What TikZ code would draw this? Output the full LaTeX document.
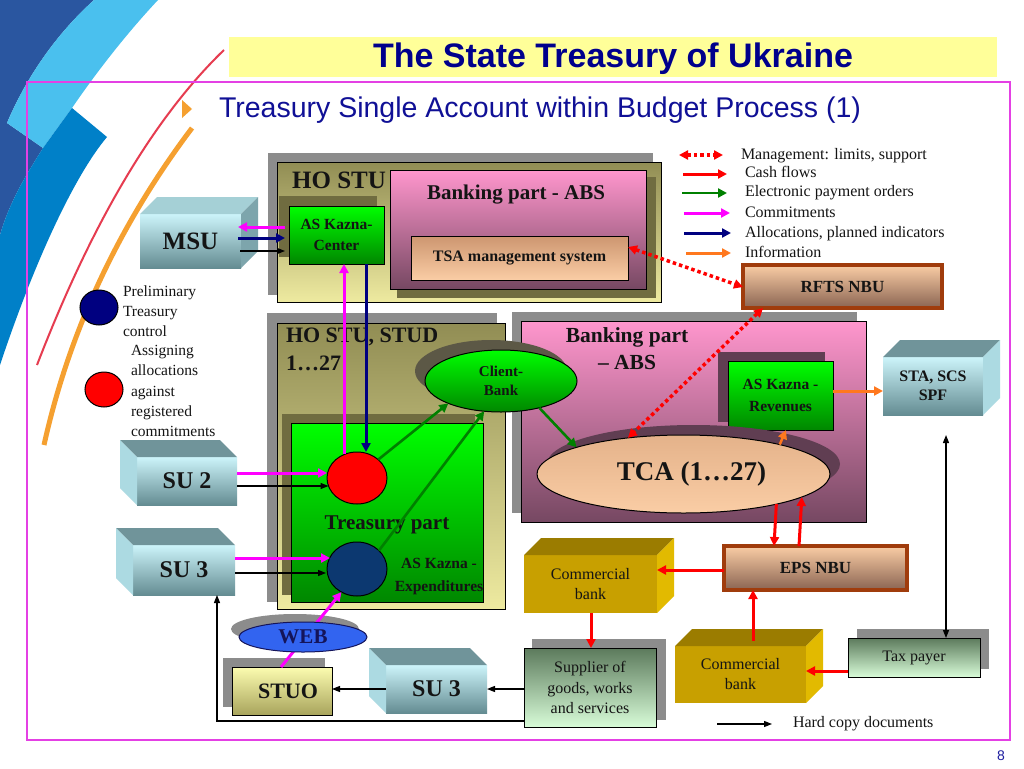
\documentclass[tikz,border=0pt]{standalone}
\usepackage{fontspec}
\setmainfont{Liberation Serif}
\newfontfamily\arialf{Liberation Sans}
\usetikzlibrary{arrows.meta,shapes.geometric,calc}
\newcommand\myfs[2]{\fontsize{#1}{#2}\selectfont}
\newcommand\cubeRfaces[4]{%
  \fill[#3] (#1.north west) -- ++(#2,-#2) -- ($(#1.north east)+(#2,-#2)$) -- (#1.north east) -- cycle;
  \fill[#4] (#1.north east) -- ++(#2,-#2) -- ($(#1.south east)+(#2,-#2)$) -- (#1.south east) -- cycle;}
\newcommand\cubeLfaces[4]{%
  \fill[#3] (#1.north west) -- ++(-#2,-#2) -- ($(#1.north east)+(-#2,-#2)$) -- (#1.north east) -- cycle;
  \fill[#4] (#1.north west) -- ++(-#2,-#2) -- ($(#1.south west)+(-#2,-#2)$) -- (#1.south west) -- cycle;}
\definecolor{navyT}{RGB}{0,0,140}
\definecolor{subT}{RGB}{16,16,150}
\definecolor{ybar}{RGB}{255,255,153}
\definecolor{frameM}{RGB}{228,64,228}
\definecolor{dblue}{RGB}{42,86,160}
\definecolor{lblue}{RGB}{74,192,238}
\definecolor{mblue}{RGB}{0,128,200}
\definecolor{decoRed}{RGB}{230,60,80}
\definecolor{decoOr}{RGB}{245,160,48}
\definecolor{shgray}{RGB}{140,140,140}
\definecolor{olD}{RGB}{145,141,84}
\definecolor{olL}{RGB}{238,234,160}
\definecolor{olSh}{RGB}{112,108,64}
\definecolor{pinkT}{RGB}{255,150,205}
\definecolor{pinkB}{RGB}{118,72,98}
\definecolor{mauveSh}{RGB}{96,62,82}
\definecolor{cbSh}{RGB}{92,88,70}
\definecolor{peachT}{RGB}{205,150,112}
\definecolor{peachT2}{RGB}{228,178,138}
\definecolor{peachB}{RGB}{250,205,165}
\definecolor{gT}{RGB}{0,255,0}
\definecolor{gB}{RGB}{0,135,0}
\definecolor{cyT}{RGB}{204,244,250}
\definecolor{cyB}{RGB}{100,140,146}
\definecolor{cyTop}{RGB}{112,148,154}
\definecolor{cyTopL}{RGB}{165,208,214}
\definecolor{cySide}{RGB}{172,218,226}
\definecolor{cySideD}{RGB}{125,165,172}
\definecolor{goldF}{RGB}{200,160,0}
\definecolor{goldTop}{RGB}{155,124,0}
\definecolor{goldSide}{RGB}{226,186,0}
\definecolor{brownB}{RGB}{160,60,12}
\definecolor{nbuB}{RGB}{138,100,82}
\definecolor{supT}{RGB}{92,122,92}
\definecolor{supB}{RGB}{216,252,216}
\definecolor{stuoT}{RGB}{252,252,176}
\definecolor{stuoB}{RGB}{168,164,92}
\definecolor{webF}{RGB}{50,100,240}
\definecolor{webT}{RGB}{20,20,90}
\definecolor{navyC}{RGB}{12,56,112}
\definecolor{legNavy}{RGB}{0,0,128}
\definecolor{arMag}{RGB}{255,0,255}
\definecolor{arNavy}{RGB}{0,0,128}
\definecolor{arGreen}{RGB}{0,128,0}
\definecolor{arRed}{RGB}{255,0,0}
\definecolor{arOr}{RGB}{255,120,30}
\definecolor{txt}{RGB}{20,20,20}
\definecolor{pageB}{RGB}{30,30,160}
\begin{document}
\begin{tikzpicture}[x=1pt,y=-1pt,
  every node/.style={inner sep=0pt,outer sep=0pt,text=txt},
  shadowR/.style={rectangle,fill=shgray},
  oliveBox/.style={rectangle,draw=black,line width=1pt,top color=olD,bottom color=olL},
  pinkBox/.style={rectangle,draw=black,line width=1pt,top color=pinkT,bottom color=pinkB},
  greenBox/.style={rectangle,draw=black,line width=1pt,top color=gT,bottom color=gB},
  peachBox/.style={rectangle,draw=black,line width=1pt,top color=peachT,bottom color=peachB},
  nbuBox/.style={rectangle,draw=brownB,line width=3.5pt,top color=peachB,bottom color=nbuB},
  cyanFront/.style={rectangle,top color=cyT,bottom color=cyB},
  goldFront/.style={rectangle,fill=goldF},
  supBox/.style={rectangle,draw=black,line width=1pt,top color=supT,bottom color=supB},
  stuoBox/.style={rectangle,draw=black,line width=1pt,top color=stuoT,bottom color=stuoB},
  hd/.style={-{Triangle[length=9pt,width=9pt]}},
  amag/.style={hd,draw=arMag,line width=3pt},
  anavy/.style={hd,draw=arNavy,line width=3pt},
  agreen/.style={hd,draw=arGreen,line width=2.6pt},
  ared/.style={hd,draw=arRed,line width=3pt},
  aor/.style={hd,draw=arOr,line width=3pt},
  ablk/.style={-{Triangle[length=8pt,width=6pt]},draw=black,line width=1.2pt},
  ablkTwo/.style={{Triangle[length=8pt,width=6pt]}-{Triangle[length=8pt,width=6pt]},draw=black,line width=1.2pt},
  adot/.style={{Triangle[length=9pt,width=9pt]}-{Triangle[length=9pt,width=9pt]},draw=arRed,line width=3.5pt,dash pattern=on 3.5pt off 3pt},
  lgtext/.style={anchor=base west,font=\myfs{16}{19}}
]
\useasboundingbox (0,0) rectangle (1024,768);
\fill[white] (0,0) rectangle (1024,768);

% decoration
\fill[dblue] (0,0) -- (94,0) .. controls (55,35) and (25,80) .. (7,123) -- (43,148) .. controls (28,172) and (10,200) .. (0,235) -- cycle;
\fill[lblue] (94,0) -- (158,0) .. controls (128,32) and (98,70) .. (72,108) -- (43,148) -- (7,123) .. controls (25,80) and (55,35) .. (94,0) -- cycle;
\fill[mblue] (72,108) -- (107,137) .. controls (75,175) and (35,260) .. (0,365) -- (0,235) .. controls (10,200) and (28,172) .. (43,148) -- cycle;
\draw[decoRed, line width=2pt] (224,50) .. controls (154.7,116.7) and (92.3,221.7) .. (37,365);
\draw[decoOr, line width=5pt] (192,128) .. controls (118.7,225.3) and (69.3,331) .. (44,445);
\fill[decoOr] (182,100) -- (192,109) -- (182,118) -- cycle;

% title
\node[fill=ybar, minimum width=768, minimum height=40] (bar) at (613,57) {};
\node[anchor=base, font=\arialf\bfseries\myfs{34}{40}, text=navyT] (title) at (613,67) {The State Treasury of Ukraine};
\node[anchor=base west, font=\arialf\myfs{28.5}{32}, text=subT] (subtitle) at (219,117.5) {Treasury Single Account within Budget Process (1)};
\draw[frameM, line width=1.5pt] (27,82) rectangle (1010,740);

% top block
\node[shadowR, minimum width=385, minimum height=142] (hostuSh) at (460.5,224) {};
\node[oliveBox, minimum width=384, minimum height=140] (hostu) at (469,232) {};
\node[font=\bfseries\myfs{25}{28}] (hostuT) at (339,180) {HO STU};
\node[fill=olSh, minimum width=259, minimum height=121] (bankASh) at (526.5,237.5) {};
\node[pinkBox, minimum width=256, minimum height=119] (bankA) at (518,229.5) {};
\node[font=\bfseries\myfs{21}{24}] (bankAT) at (516,195) {Banking part - ABS};
\node[peachBox, minimum width=217, minimum height=44, font=\bfseries\myfs{16}{19}] (tsa) at (519.5,258) {TSA management system};
\node[fill=olSh, minimum width=98, minimum height=61] (askcSh) at (328,226.5) {};
\node[greenBox, minimum width=95, minimum height=58, align=center, font=\bfseries\myfs{15.5}{21}] (askc) at (336.5,235) {AS Kazna-\\Center};

% MSU
\node[cyanFront, minimum width=101, minimum height=54, font=\bfseries\myfs{25}{28}] (msu) at (190.5,241) {MSU};
\cubeRfaces{msu}{17}{cyTopL}{cySideD}

% legend circles
\node[ellipse, fill=legNavy, draw=black, line width=1pt, minimum width=38, minimum height=35] (legNav) at (99,307.5) {};
\node[anchor=north west, align=left, font=\myfs{15.5}{20}] (legNavT) at (123,285.5) {Preliminary\\Treasury\\control};
\node[ellipse, fill=arRed, draw=black, line width=1pt, minimum width=38, minimum height=35] (legRed) at (104,389.5) {};
\node[anchor=north west, align=left, font=\myfs{15.5}{20.2}] (legRedT) at (131,345.5) {Assigning\\allocations\\against\\registered\\commitments};

% HO STU, STUD block
\node[shadowR, minimum width=230, minimum height=289] (hostudSh) at (382,457.5) {};
\node[oliveBox, minimum width=228, minimum height=286] (hostud) at (391,466) {};
\node[anchor=north west, align=left, font=\bfseries\myfs{22}{28}] (hostudT) at (286,327.5) {HO STU, STUD\\1…27};
\node[fill=olSh, minimum width=193, minimum height=181] (tpSh) at (378.5,504.5) {};
\node[greenBox, minimum width=192, minimum height=179] (tp) at (387,512.5) {};
\node[font=\bfseries\myfs{21}{24}] (tpT) at (387,525) {Treasury part};
\node[ellipse, fill=arRed, draw=black, line width=1pt, minimum width=60, minimum height=52] (redc) at (357,478) {};
\node[ellipse, fill=navyC, draw=black, line width=1pt, minimum width=60, minimum height=54] (navyc) at (357,569) {};
\node[align=center, font=\bfseries\myfs{15.5}{23}] (expT) at (439,577) {AS Kazna -\\Expenditures};

% Banking part ABS (big)
\node[shadowR, minimum width=345, minimum height=201] (bankBSh) at (684.5,412.5) {};
\node[pinkBox, minimum width=345, minimum height=201] (bankB) at (693.5,421.5) {};
\node[align=center, font=\bfseries\myfs{21.5}{27}] (bankBT) at (627,349) {Banking part\\– ABS};
\node[fill=mauveSh, minimum width=107, minimum height=70] (askrSh) at (771.5,387) {};
\node[greenBox, minimum width=105, minimum height=69, align=center, font=\bfseries\myfs{15.5}{22}] (askr) at (780.5,395.5) {AS Kazna -\\Revenues};
\node[ellipse, fill=mauveSh, minimum width=293, minimum height=78] (tcaSh) at (693.5,464) {};
\node[ellipse, draw=black, line width=1pt, top color=peachT2, bottom color=peachB, minimum width=293, minimum height=78, font=\bfseries\myfs{27}{30}] (tca) at (683.5,474) {\hspace*{16pt}TCA (1…27)};

% Client-Bank
\node[ellipse, fill=cbSh, minimum width=152, minimum height=62] (cbankSh) at (491,371) {};
\node[ellipse, draw=black, line width=1pt, top color=gT, bottom color=gB, minimum width=152, minimum height=62, align=center, font=\bfseries\myfs{15}{19}] (cbank) at (501,381) {Client-\\Bank};

% right side
\node[cyanFront, minimum width=100, minimum height=58, align=center, font=\bfseries\myfs{16}{19}] (sta) at (933,386) {STA, SCS\\SPF};
\cubeRfaces{sta}{17}{cyTop}{cySide}
\node[nbuBox, minimum width=199, minimum height=43, font=\bfseries\myfs{17}{20}] (rfts) at (842.5,286.5) {RFTS NBU};
\node[nbuBox, minimum width=183, minimum height=44, font=\bfseries\myfs{17}{20}] (eps) at (815.5,568) {EPS NBU};

% commercial banks
\node[goldFront, minimum width=133, minimum height=58, align=center, font=\myfs{16}{20}] (cb1) at (590.5,584) {Commercial\\bank};
\cubeRfaces{cb1}{17}{goldTop}{goldSide}
\node[goldFront, minimum width=131, minimum height=57, align=center, font=\myfs{16}{20}] (cb2) at (740.5,674.5) {Commercial\\bank};
\cubeRfaces{cb2}{17}{goldTop}{goldSide}

% supplier, tax payer
\node[shadowR, minimum width=134, minimum height=81] (suppSh) at (599,679.5) {};
\node[supBox, minimum width=132, minimum height=79, align=center, font=\myfs{16}{20.8}] (supp) at (590,687.5) {Supplier of\\goods, works\\and services};
\node[shadowR, minimum width=132, minimum height=40] (taxSh) at (923,649) {};
\node[supBox, minimum width=132, minimum height=39, font=\myfs{16}{19}] (tax) at (914,657.5) {Tax payer};

% SU cubes
\node[cyanFront, minimum width=100, minimum height=48, font=\bfseries\myfs{24}{28}] (su2) at (187,481) {SU 2};
\cubeLfaces{su2}{17}{cyTop}{cySide}
\node[cyanFront, minimum width=102, minimum height=50, font=\bfseries\myfs{24}{28}] (su3a) at (184,570) {SU 3};
\cubeLfaces{su3a}{17}{cyTop}{cySide}
\node[cyanFront, minimum width=101, minimum height=48, font=\bfseries\myfs{24}{28}] (su3b) at (436.5,689) {SU 3};
\cubeLfaces{su3b}{17}{cyTop}{cySide}

% STUO
\node[shadowR, minimum width=102, minimum height=49] (stuoSh) at (274,682.5) {};
\node[stuoBox, minimum width=100, minimum height=48, font=\bfseries\myfs{22}{25}] (stuo) at (282,691) {\hspace*{12pt}STUO};

% WEB shadow
\node[ellipse, fill=shgray, minimum width=128, minimum height=30] (webSh) at (295,629) {};

% ---------- arrows ----------
\draw[amag] ($(askc.west |- 0,227)+(-4,0)$) -- ($(msu.east |- 0,227)+(-3,0)$);
\draw[anavy] ($(msu.east |- 0,238)+(-3,0)$) -- ($(askc.west |- 0,238)+(-4,0)$);
\draw[ablk] ($(msu.east |- 0,251)+(-1,0)$) -- ($(askc.west |- 0,251)+(-4,0)$);
\draw[amag] ($(redc.north -| 344,0)+(0,2)$) -- (askc.south -| 344,0);
\draw[anavy] (askc.south -| 366,0) -- (redc.north -| 366,0);
\draw[amag] (su2.east |- 0,473) -- (redc.west |- 0,473);
\draw[ablk] (su2.east |- 0,486) -- ($(redc.west |- 0,486)+(1.5,0)$);
\draw[amag] (su3a.east |- 0,558) -- ($(navyc.west |- 0,558)+(3,0)$);
\draw[ablk] (su3a.east |- 0,573) -- ($(navyc.west |- 0,573)+(-1,0)$);
\draw[agreen] (redc.north east) -- (cbank.203);
\draw[agreen] (navyc.40) -- (cbank.241);
\draw[agreen] (cbank.325) -- (tca.166);
\draw[amag] (stuo.north -| 281,0) -- (navyc.236);
\draw[adot] (tsa.east |- 0,247) -- (rfts.west |- 0,287);
\draw[adot] (rfts.south -| 763,0) -- (tca.147);
\draw[aor] (askr.east |- 0,391) -- (sta.west |- 0,391);
\draw[aor, line width=2.5pt] (tca.17) -- (askr.south -| 786,0);
\draw[ared] (tca.-18.7) -- (eps.north -| 774,0);
\draw[ared] (eps.north -| 799,0) -- (tca.-11.7);
\draw[ared] (eps.west |- 0,570) -- (cb1.east |- 0,570);
\draw[ared] (cb1.south -| 591,0) -- (supp.north -| 591,0);
\draw[ared] ($(cb2.north -| 753,0)+(0,-5)$) -- (eps.south -| 753,0);
\draw[ared] (tax.west |- 0,671) -- (cb2.east |- 0,671);
\draw[ablk] (supp.west |- 0,689) -- (su3b.east |- 0,689);
\draw[ablk] (su3b.west |- 0,689) -- (stuo.east |- 0,689);
\draw[ablk] (supp.west |- 0,721) -| (su3a.south -| 217,0);
\draw[ablkTwo] ($(sta.south)+(13,20)$) -- (tax.north -| 946,0);

% WEB on top of its line
\node[ellipse, fill=webF, draw=webT, line width=1pt, minimum width=128, minimum height=30, font=\bfseries\myfs{21}{24}, text=webT] (web) at (303,637) {WEB};

% legend
\coordinate (lgA1) at (679,155); \coordinate (lgB1) at (723,155);
\coordinate (lgA2) at (683,174); \coordinate (lgB2) at (727,174);
\coordinate (lgA3) at (682,193); \coordinate (lgB3) at (727,193);
\coordinate (lgA4) at (684,213); \coordinate (lgB4) at (730,213);
\coordinate (lgA5) at (684,233); \coordinate (lgB5) at (731,233);
\coordinate (lgA6) at (686,253); \coordinate (lgB6) at (731,253);
\draw[adot] (lgA1) -- (lgB1);
\draw[ared] (lgA2) -- (lgB2);
\draw[agreen] (lgA3) -- (lgB3);
\draw[amag] (lgA4) -- (lgB4);
\draw[anavy] (lgA5) -- (lgB5);
\draw[aor] (lgA6) -- (lgB6);
\node[lgtext] (lgT1) at (741,159) {Management: limits, support};
\node[lgtext] (lgT2) at (745,177) {Cash flows};
\node[lgtext] (lgT3) at (745,196) {Electronic payment orders};
\node[lgtext] (lgT4) at (745,217) {Commitments};
\node[lgtext] (lgT5) at (745,237) {Allocations, planned indicators};
\node[lgtext] (lgT6) at (745,257) {Information};
\coordinate (hcA) at (717,724); \coordinate (hcB) at (772,724);
\draw[ablk] (hcA) -- (hcB);
\node[lgtext] (hcT) at (793,727) {Hard copy documents};

\node[font=\arialf\myfs{14}{16}, text=pageB] (pnum) at (1001,755.5) {8};
\end{tikzpicture}
\end{document}
